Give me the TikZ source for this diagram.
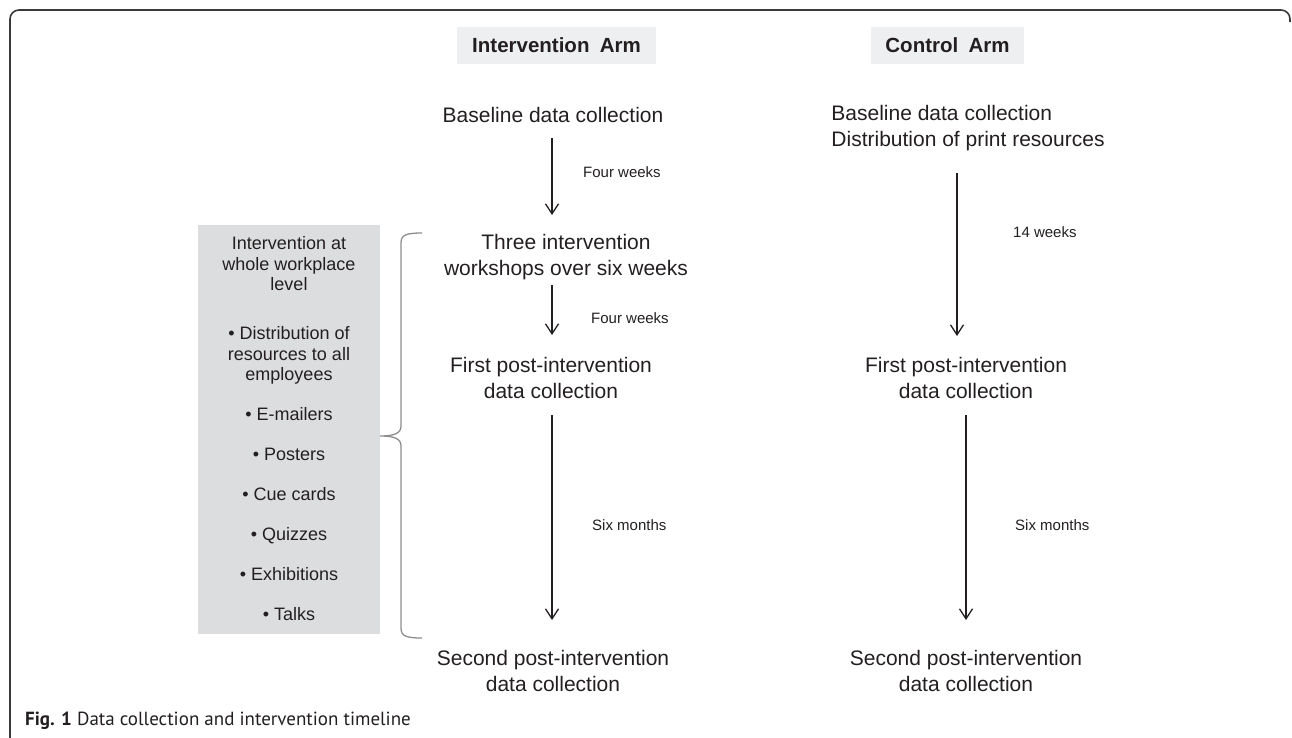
\documentclass[tikz,border=0pt]{standalone}
\usepackage{fontspec}
\setmainfont{Liberation Sans}
\newfontfamily\capfont{PT Sans}
\usetikzlibrary{arrows.meta,calc}
\definecolor{ink}{HTML}{231F20}
\definecolor{boxgray}{HTML}{DCDDDF}
\definecolor{hdrgray}{HTML}{EEEFF1}
\definecolor{bracegray}{HTML}{8E8E8E}
\definecolor{framegray}{HTML}{3A3A3A}
\begin{document}
\begin{tikzpicture}[x=1pt,y=-1pt,
  main/.style={font=\fontsize{21}{26}\selectfont, align=center, inner sep=0pt, text=ink},
  lbl/.style={font=\fontsize{15}{18}\selectfont, anchor=west, inner sep=0pt, text=ink},
  hdr/.style={fill=hdrgray, font=\bfseries\fontsize{20.5}{24}\selectfont, inner sep=0pt, text=ink, minimum height=37pt},
  arr/.style={-{Straight Barb[length=10pt,width=13pt]}, line width=1.3pt, draw=ink},
  bracestyle/.style={draw=bracegray, line width=1.3pt},
  framestyle/.style={draw=framegray, line width=1.6pt, rounded corners=9pt}]
\useasboundingbox (0,0) rectangle (1292,737);
% frame
\draw[framestyle] (10,760) -- (10,10) -- (1290,10) -- (1290,22);
% headers
\node[hdr, minimum width=199pt] (ih) at (556.5,45.5) {Intervention\hspace{0.5em}Arm};
\node[hdr, minimum width=153pt] (ch) at (947.5,45.5) {Control\hspace{0.5em}Arm};
% intervention arm
\node[main] (ib) at (553,115) {Baseline data collection};
\node[main] (iw) at (566,257.5) {Three intervention\\workshops over six weeks};
\node[main] (if) at (551,378) {First post-intervention\\data collection};
\node[main] (is) at (553,671) {Second post-intervention\\data collection};
% control arm
\node[main, align=left] (cb) at (968,128.5) {Baseline data collection\\Distribution of print resources};
\node[main] (cf) at (966,378) {First post-intervention\\data collection};
\node[main] (cs) at (966,671) {Second post-intervention\\data collection};
% arrows
\draw[arr] ($(ib.center)+(-1,23)$) -- ($(iw.center)+(-14,-42.5)$);
\draw[arr] ($(iw.center)+(-14,27.5)$) -- ($(if.center)+(1,-43)$);
\draw[arr] ($(if.center)+(1,37)$) -- ($(is.center)+(-1,-51)$);
\draw[arr] ($(cb.center)+(-11,44.5)$) -- ($(cf.center)+(-9,-42)$);
\draw[arr] ($(cf.center)+(0,37)$) -- ($(cs.center)+(0,-51)$);
% labels
\node[lbl] (l1) at (583,172) {Four weeks};
\node[lbl] (l2) at (591,318) {Four weeks};
\node[lbl] (l3) at (592,525) {Six months};
\node[lbl] (l4) at (1013,232) {14 weeks};
\node[lbl] (l5) at (1015,525) {Six months};
% grey box
\node[fill=boxgray, minimum width=182pt, minimum height=409pt, inner sep=0pt] (gb) at (289,429.5) {};
\node[font=\fontsize{18}{20.5}\selectfont, align=center, inner sep=0pt, text=ink] (gbt) at (289,429)
  {Intervention at\\whole workplace\\level\\[28.5pt]
   • Distribution of\\resources to all\\employees\\[19.5pt]
   • E-mailers\\[19.5pt]
   • Posters\\[19.5pt]
   • Cue cards\\[19.5pt]
   • Quizzes\\[19.5pt]
   • Exhibitions\\[19.5pt]
   • Talks};
% brace
\draw[bracestyle] (422,233) .. controls (406,233) and (401,235) .. (401,243) -- (401,426)
  .. controls (401,433) and (395,436) .. (380,436)
  .. controls (395,436) and (401,439) .. (401,446) -- (401,628)
  .. controls (401,636) and (406,638) .. (422,638);
% caption
\node[anchor=west, inner sep=0pt, text=ink, font=\capfont\fontsize{19}{22}\selectfont] (cap) at (25,721)
  {\textbf{Fig. 1} Data collection and intervention timeline};
\end{tikzpicture}
\end{document}
